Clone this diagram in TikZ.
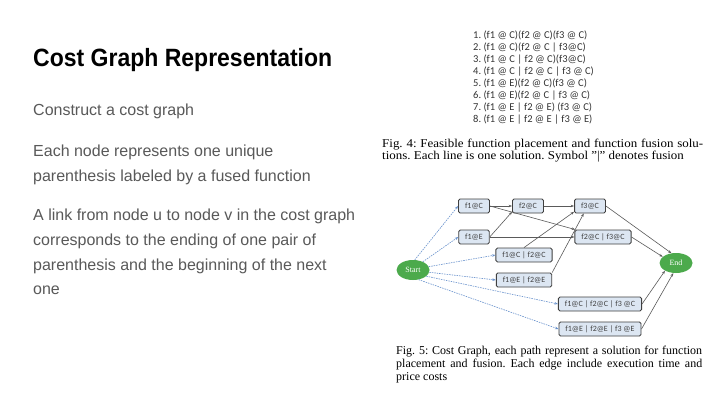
\documentclass[tikz,border=0pt]{standalone}
\usepackage{fontspec}
\setmainfont{Liberation Sans}
\newfontfamily\titlefont{Liberation Sans Bold}[FakeStretch=0.92]
\newfontfamily\listfont{Carlito}
\newfontfamily\capfont{Liberation Serif}
\newfontfamily\capwidefont{Liberation Serif}[FakeStretch=1.08]
\usetikzlibrary{shapes}
\usetikzlibrary{arrows.meta}
\usetikzlibrary{positioning}
\frenchspacing

\definecolor{bodygray}{HTML}{595959}
\definecolor{boxfill}{HTML}{DCE6F2}
\definecolor{boxline}{HTML}{404040}
\definecolor{termgreen}{HTML}{4CAA4C}
\definecolor{dashblue}{HTML}{6690CC}
\definecolor{edgegray}{HTML}{5A5A5A}

\tikzset{
  bullet/.style={anchor=base west, inner sep=0pt, text=bodygray, font=\fontsize{16}{20}\selectfont},
  listline/.style={anchor=base west, inner sep=0pt, text=black!80, font=\listfont\fontsize{10.5}{12}\selectfont},
  fbox/.style={draw=boxline, fill=boxfill, rounded corners=1.5pt, line width=0.9pt, inner xsep=6.5pt, inner ysep=0pt, minimum height=14pt, text=black!75, font=\listfont\fontsize{8}{9}\selectfont},
  term/.style={ellipse, fill=termgreen, text=white, inner sep=0pt, minimum width=33pt, minimum height=20pt, font=\capfont\fontsize{8}{9}\selectfont},
  run/.style={draw=edgegray, line width=0.6pt, -{Stealth[length=3.5pt,width=2.5pt]}},
  entry/.style={draw=dashblue, dashed, dash pattern=on 1.5pt off 1pt, line width=0.6pt, -{Stealth[length=3.5pt,width=2.5pt]}},
}

\begin{document}
\begin{tikzpicture}[x=1pt,y=-1pt]
  \useasboundingbox[fill=white] (0,0) rectangle (720,405);

  % left column
  \node[anchor=base west, inner sep=0pt, font=\titlefont\fontsize{25}{29}\selectfont] (title) at (33,66) {Cost Graph Representation};
  \node[bullet] (c1) at (33,115) {Construct a cost graph};
  \node[bullet] (n1) at (33,156) {Each node represents one unique};
  \node[bullet] (n2) at (33,181) {parenthesis labeled by a fused function};
  \node[bullet] (l1) at (33,220) {A link from node u to node v in the cost graph};
  \node[bullet] (l2) at (33,245) {corresponds to the ending of one pair of};
  \node[bullet] (l3) at (33,270) {parenthesis and the beginning of the next};
  \node[bullet] (l4) at (33,294) {one};

  % solutions
  \foreach \txt [count=\i] in {
    {1. (f1 @ C)(f2 @ C)(f3 @ C)},
    {2. (f1 @ C)(f2 @ C | f3@C)},
    {3. (f1 @ C | f2 @ C)(f3@C)},
    {4. (f1 @ C | f2 @ C | f3 @ C)},
    {5. (f1 @ E)(f2 @ C)(f3 @ C)},
    {6. (f1 @ E)(f2 @ C | f3 @ C)},
    {7. (f1 @ E | f2 @ E) (f3 @ C)},
    {8. (f1 @ E | f2 @ E | f3 @ E)}}
    \node[listline] (sol\i) at (473,26+12*\i) {\txt};

  \node[anchor=base west, inner sep=0pt, text width=321pt, align=justify, font=\capwidefont\fontsize{12}{12.5}\selectfont] (cap4) at (382,147)
    {\parfillskip=0pt Fig.~4: Feasible function placement and function fusion solu-\linebreak tions. Each line is one solution. Symbol ”|” denotes fusion};

  % cost graph
  \node[term] (start) at (413,270) {Start};
  \node[term] (end) at (676,263) {End};
  \node[fbox] (f1C) at (474,206) {f1@C};
  \node[fbox] (f2C) at (528,206) {f2@C};
  \node[fbox] (f3C) at (590,206) {f3@C};
  \node[fbox] (f1E) at (474,237) {f1@E};
  \node[fbox] (f23C) at (603,237) {f2@C | f3@C};
  \node[fbox] (f12C) at (524,255) {f1@C | f2@C};
  \node[fbox] (f12E) at (524,280) {f1@E | f2@E};
  \node[fbox] (f123C) at (600,304) {f1@C | f2@C | f3 @C};
  \node[fbox] (f123E) at (600,329) {f1@E | f2@E | f3 @E};

  \draw[entry] (start.80) -- (f1C.west);
  \draw[entry] (start.40) -- (f1E.west);
  \draw[entry] (start.12) -- (f12C.west);
  \draw[entry] (start.-8) -- (f12E.west);
  \draw[entry] (start.-25) -- (f123C.west);
  \draw[entry] (start.-60) -- (f123E.west);

  \draw[run] (f1C.east) -- (f2C.west);
  \draw[run] (f1C.east) -- (f23C.165);
  \draw[run] (f1E.east) -- (f2C.200);
  \draw[run] (f1E.east) -- (f23C.west);
  \draw[run] (f2C.east) -- (f3C.west);
  \draw[run] (f12C.north) -- (f3C.200);
  \draw[run] (f12E.north east) -- (f3C.230);
  \draw[run] (f3C.east) -- (end.115);
  \draw[run] (f23C.east) -- (end.155);
  \draw[run] (f123C.east) -- (end.215);
  \draw[run] (f123E.east) -- (end.255);

  \node[anchor=base west, inner sep=0pt, text width=306pt, align=justify, font=\capfont\fontsize{12}{13}\selectfont] (cap5) at (396,354)
    {Fig.~5: Cost Graph, each path represent a solution for function\linebreak placement and fusion. Each edge include execution time and\linebreak price costs};
\end{tikzpicture}
\end{document}
